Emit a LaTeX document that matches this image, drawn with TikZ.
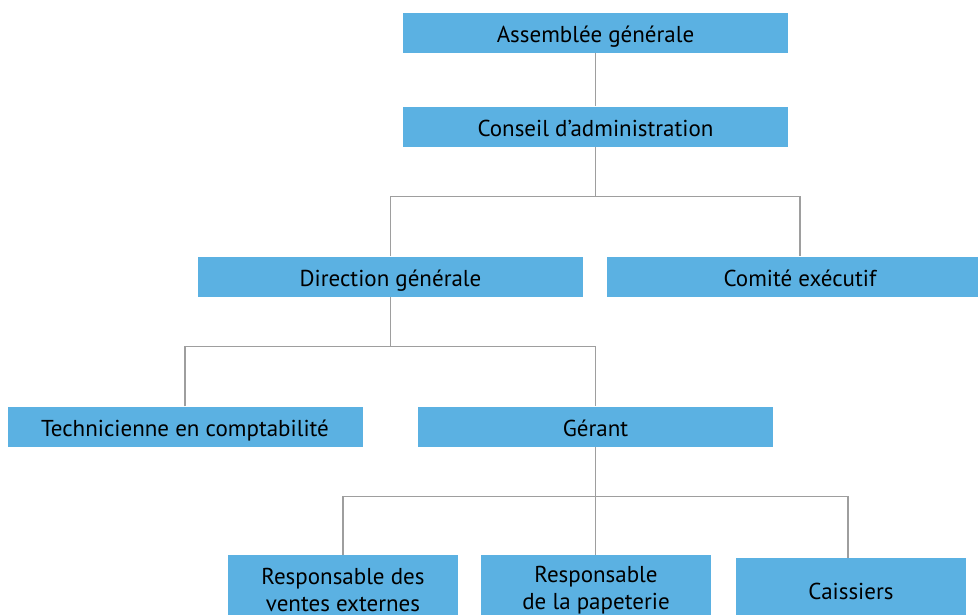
\documentclass[tikz,border=0pt]{standalone}
\usepackage{fontspec}
\setmainfont{PT Sans}
\definecolor{boxblue}{RGB}{91,177,226}
\definecolor{linegray}{RGB}{158,158,158}
\begin{document}
\begin{tikzpicture}[x=1pt,y=-1pt,
  box/.style={fill=boxblue,inner sep=0pt,minimum height=40pt,text=black,
    text height=22pt,text depth=3pt,font=\fontsize{23}{27}\selectfont},
  twobox/.style={box,minimum height=70pt,align=center,text height=,text depth=},
  link/.style={draw=linegray,line width=1.5pt}]
\useasboundingbox (0,0) rectangle (978,614);
\clip (0,0) rectangle (978,614);

% top levels
\node[box,minimum width=385pt] (ag) at (595.5,32.5) {Assemblée générale};
\node[box,minimum width=385pt] (ca) at (595.5,126.5) {Conseil d’administration};
\node[box,minimum width=385pt] (dg) at (390.5,276.5) {Direction générale};
\node[box,minimum width=386pt] (ce) at (800,276.5) {Comité exécutif};

% under the direction
\node[box,minimum width=355pt] (tc) at (185,426.5) {Technicienne en comptabilité};
\node[box,minimum width=355pt] (ge) at (595.5,426.5) {Gérant};

% under the manager
\node[twobox,minimum width=230pt] (rv) at (343,590) {Responsable des\\ventes externes};
\node[twobox,minimum width=230pt] (rp) at (596,590) {Responsable\\de la papeterie};
\node[box,minimum width=230pt,minimum height=64pt] (cs) at (851,590) {Caissiers};

\draw[link] (ag) -- (ca);
\draw[link] (ca.south) -- ++(0,50) coordinate (b1);
\draw[link] (dg.north) |- (b1) -| (ce.north);

\draw[link] (dg.south) -- ++(0,50) coordinate (b2);
\draw[link] (tc.north) |- (b2) -| (ge.north);

\draw[link] (ge.south) -- ++(0,50) coordinate (b3);
\draw[link] (rv.north) |- (b3) -| ([xshift=-3pt]cs.north);
\draw[link] (b3) -- (b3 |- rp.north);

\end{tikzpicture}
\end{document}
